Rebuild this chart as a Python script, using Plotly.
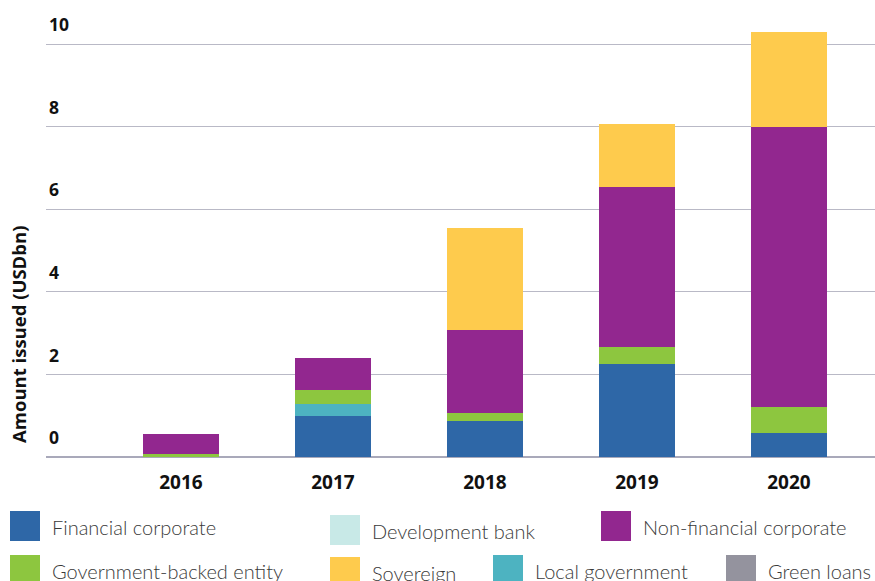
import plotly.graph_objects as go

years = ["2016", "2017", "2018", "2019", "2020"]
financial_corporate = [0.0, 1.00, 0.88, 2.26, 0.59]
local_government = [0.0, 0.29, 0.0, 0.0, 0.0]
government_backed = [0.08, 0.34, 0.19, 0.41, 0.63]
non_financial_corporate = [0.48, 0.77, 2.01, 3.87, 6.78]
sovereign = [0.0, 0.0, 2.47, 1.53, 2.30]
development_bank = [0.0, 0.0, 0.0, 0.0, 0.0]
green_loans = [0.0, 0.0, 0.0, 0.0, 0.0]
y_ticks = [0, 2, 4, 6, 8, 10]

series = [
    ("Financial corporate", financial_corporate, "#2E67A7"),
    ("Development bank", development_bank, "#C8E9E7"),
    ("Local government", local_government, "#4DB3C1"),
    ("Government-backed entity", government_backed, "#8DC63F"),
    ("Non-financial corporate", non_financial_corporate, "#92278F"),
    ("Sovereign", sovereign, "#FECB4D"),
    ("Green loans", green_loans, "#94939E"),
]

fig = go.Figure()
for name, vals, col in series:
    fig.add_trace(go.Bar(x=years, y=vals, name=name, marker=dict(color=col, line=dict(width=0)),
                         showlegend=False))

W, H = 875, 581
ml, mr, mt, mb = 46, 0, 0, 124
pw, ph = W - ml - mr, H - mt - mb

def px(x):
    return (x - ml) / pw

def py(y):
    return (H - mb - y) / ph

# custom legend (swatch positions in pixels, name, colour)
legend_items = [
    ("Financial corporate", "#2E67A7", 10, 511),
    ("Development bank", "#C8E9E7", 330, 515),
    ("Non-financial corporate", "#92278F", 601, 511),
    ("Government-backed entity", "#8DC63F", 10, 555),
    ("Sovereign", "#FECB4D", 330, 557),
    ("Local government", "#4DB3C1", 493, 555),
    ("Green loans", "#94939E", 726, 555),
]
shapes = []
annotations = []
for name, col, sx, sy in legend_items:
    shapes.append(dict(type="rect", xref="paper", yref="paper",
                       x0=px(sx), x1=px(sx + 30), y0=py(sy + 30), y1=py(sy),
                       fillcolor=col, line=dict(width=0)))
    annotations.append(dict(text=name, xref="paper", yref="paper", x=px(sx + 40), y=py(sy + 16),
                            xanchor="left", yanchor="middle", showarrow=False,
                            font=dict(family="Lato", size=20, color="#3a3a3a", weight=300)))

annotations.append(dict(text="<b>Amount issued (USDbn)</b>", xref="paper", yref="paper",
                        x=px(18), y=py(335), textangle=-90, showarrow=False,
                        xanchor="center", yanchor="middle",
                        font=dict(family="Open Sans", size=18.5, color="#111111")))

fig.update_layout(
    width=W, height=H,
    margin=dict(l=ml, r=mr, t=mt, b=mb),
    barmode="stack", bargap=0.5,
    plot_bgcolor="white", paper_bgcolor="white",
    shapes=shapes, annotations=annotations,
    xaxis=dict(type="category", range=[-0.888, 4.566], showgrid=False, showline=False,
               ticks="", tickfont=dict(family="Open Sans", size=19, color="#111111", weight="bold"),
               ticklabelstandoff=12),
    yaxis=dict(range=[0, 457 / 41.3], tickvals=y_ticks, showgrid=True, gridcolor="#B9B9C6", gridwidth=1,
               zeroline=True, zerolinecolor="#A9A9BA", zerolinewidth=1.5, showline=False, ticks="",
               ticklabelposition="inside", ticklabelshift=-19, ticklabelstandoff=0,
               tickfont=dict(family="Open Sans", size=17.5, color="#111111", weight="bold")),
)

fig.write_html("out.html", config={"displayModeBar": False},
               post_script="document.body.style.margin='0';document.body.style.overflow='hidden';")
